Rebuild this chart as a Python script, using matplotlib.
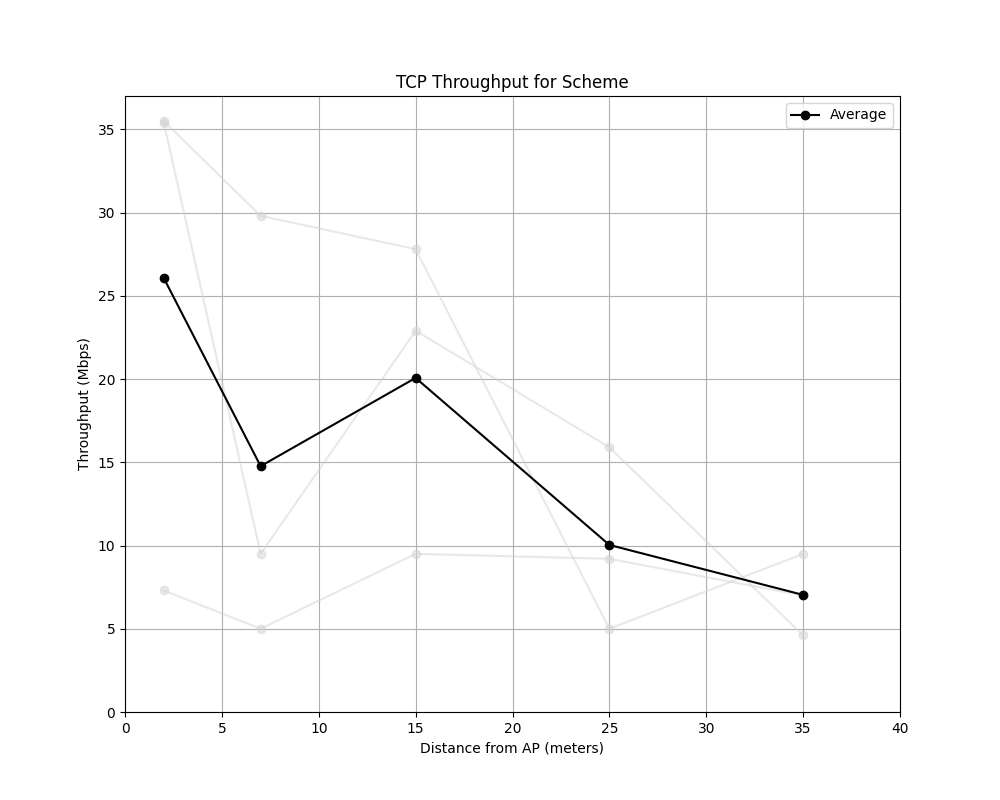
import matplotlib as mpl
mpl.use('Agg')
import matplotlib.pyplot as plt
import numpy as np

distances = [2, 7, 15, 25, 35]
run_a = [35.5, 29.8, 27.8, 5.0, 9.5]
run_b = [35.4, 9.5, 22.9, 15.9, 4.6]
run_c = [7.3, 5.0, 9.5, 9.2, 7.0]

runs = np.array([run_a, run_b, run_c])
avg = runs.mean(axis=0)

fig, ax = plt.subplots(figsize=(10, 8), dpi=100)
for r in runs:
    ax.plot(distances, r, 'o-', color='lightgray', alpha=0.5)
ax.plot(distances, avg, 'o-', color='black', label='Average')
ax.set_xlim(0, 40)
ax.set_ylim(0, 37)
ax.set_xlabel('Distance from AP (meters)')
ax.set_ylabel('Throughput (Mbps)')
ax.set_title('TCP Throughput for Scheme')
ax.grid(True)
ax.legend()
plt.savefig('out.png')
plt.close()
